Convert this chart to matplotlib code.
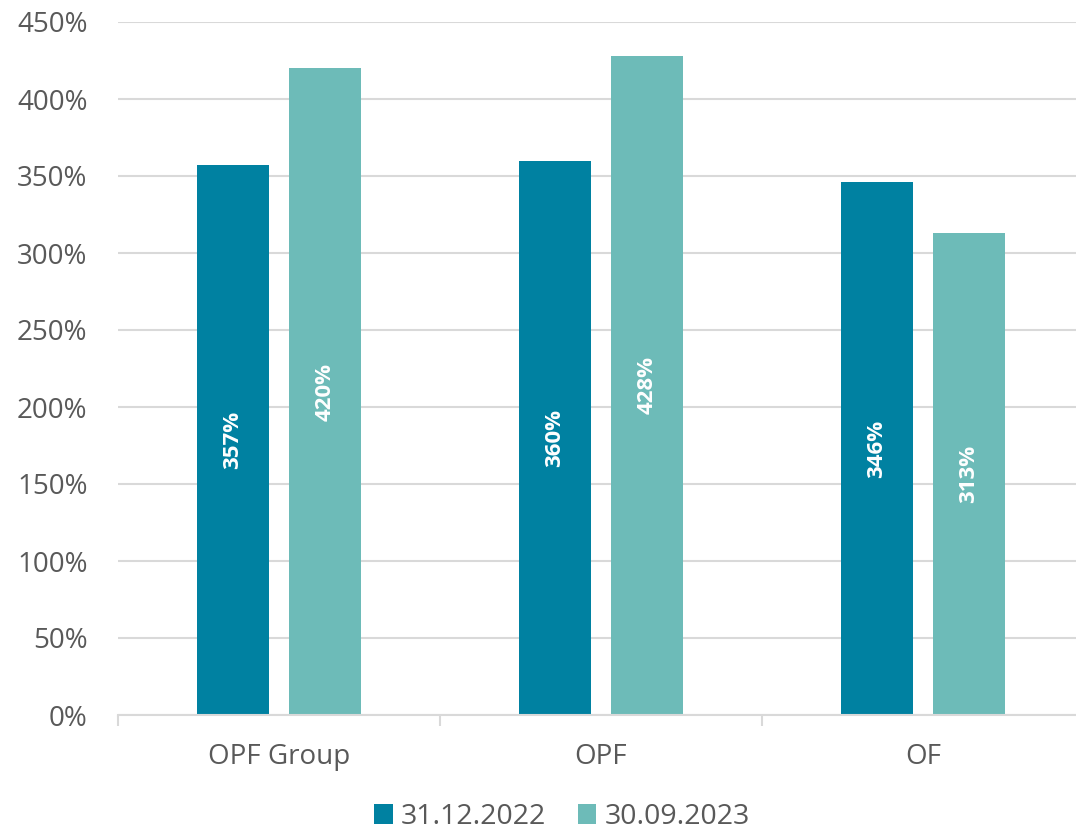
import matplotlib.pyplot as plt
import numpy as np

plt.rcParams['font.family'] = ['Open Sans', 'DejaVu Sans']

categories = ["OPF Group", "OPF", "OF"]
series_names = ["31.12.2022", "30.09.2023"]
vals_2022 = [357, 360, 346]
vals_2023 = [420, 428, 313]
colors = ["#0081a1", "#6dbbb8"]

fig = plt.figure(figsize=(10.76, 8.32), dpi=100)
ax = fig.add_axes([118 / 1076, 1 - 715 / 832, 1 - 118 / 1076, (715 - 22) / 832])

x = np.arange(len(categories))
w = 0.224
off = 0.143
for vals, dx, c, name in [(vals_2022, -off, colors[0], series_names[0]),
                          (vals_2023, off, colors[1], series_names[1])]:
    bars = ax.bar(x + dx, vals, width=w, color=c, label=name, zorder=2)
    for b, v in zip(bars, vals):
        ax.text(b.get_x() + b.get_width() / 2, v / 2, f"{v}%", rotation=90,
                ha="center", va="center", color="white", fontsize=16,
                fontweight="bold")

ax.set_ylim(0, 450)
ax.set_yticks(range(0, 451, 50))
ax.set_yticklabels([f"{t}%" for t in range(0, 451, 50)])
ax.set_xticks(x)
ax.set_xticklabels(categories)
ax.set_xticks([-0.5, 0.5, 1.5], minor=True)
ax.set_xlim(-0.5, -0.5 + (1076 - 118) / 322)
ax.tick_params(axis="x", which="major", length=0, pad=20, labelsize=20, labelcolor="#595959")
ax.tick_params(axis="x", which="minor", length=8, color="#d9d9d9", width=1.5)
ax.tick_params(axis="y", length=0, pad=22, labelsize=20, labelcolor="#595959")
ax.grid(axis="y", color="#d9d9d9", linewidth=1.5, zorder=0)
for s in ["top", "right", "left"]:
    ax.spines[s].set_visible(False)
ax.spines["bottom"].set_color("#d9d9d9")
ax.spines["bottom"].set_linewidth(1.5)

fig.legend(loc="center", bbox_to_anchor=(562 / 1076, 1 - 817 / 832), ncol=2, frameon=False,
           fontsize=20.5, handlelength=0.65, handleheight=0.65, handletextpad=0.3,
           columnspacing=1.1, labelcolor="#595959")

fig.savefig("out.png", dpi=100)
